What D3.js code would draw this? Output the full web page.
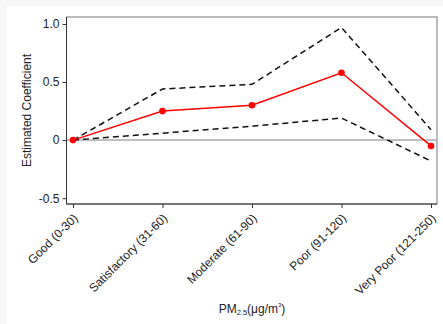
<!DOCTYPE html>
<meta charset="utf-8">
<head>
    <script type="text/javascript" src="https://cdn.jsdelivr.net/npm/d3@7"></script>
    <style>
        body { margin: 0; background: #f7f7f7; }
        text { font-family: "Liberation Sans", Arial, sans-serif; fill: #222; }
    </style>
</head>
<body>
<div id="chart"></div>
<script>
    // chart values
    var categories = ["Good (0-30)", "Satisfactory (31-60)", "Moderate (61-90)", "Poor (91-120)", "Very Poor (121-250)"];
    var estimate = [0, 0.25, 0.30, 0.58, -0.05];
    var upper = [0, 0.44, 0.48, 0.97, 0.09];
    var lower = [0, 0.06, 0.12, 0.19, -0.18];
    var yTicks = [-0.5, 0, 0.5, 1.0];
    var yTickLabels = ["-0.5", "0", "0.5", "1.0"];

    var w = 443, h = 324;
    var plot = {left: 66.5, top: 17, right: 437, bottom: 204};

    var svg = d3.select("#chart").append("svg")
        .attr("width", w).attr("height", h);

    // white panel
    svg.append("rect").attr("x", 7).attr("y", 6)
        .attr("width", w - 7).attr("height", h - 6).attr("fill", "white");

    var x = d3.scalePoint().domain(categories).range([73, 431]);
    var y = d3.scaleLinear().domain([-0.55, 1.06]).range([plot.bottom, plot.top]);

    // frame
    svg.append("rect")
        .attr("x", plot.left).attr("y", plot.top)
        .attr("width", plot.right - plot.left).attr("height", plot.bottom - plot.top)
        .attr("fill", "none").attr("stroke", "#777").attr("stroke-width", 1);

    // zero reference line
    svg.append("line")
        .attr("x1", plot.left).attr("x2", plot.right)
        .attr("y1", y(0)).attr("y2", y(0))
        .attr("stroke", "#aaa").attr("stroke-width", 1.5);

    // axes
    var yAxis = d3.axisLeft(y).tickValues(yTicks).tickSize(4).tickPadding(3)
        .tickFormat((d, i) => yTickLabels[i]);
    svg.append("g").attr("transform", "translate(" + plot.left + ",0)")
        .call(yAxis)
        .call(g => g.select(".domain").attr("d", "M0," + plot.top + "V" + plot.bottom).attr("stroke", "#333"))
        .call(g => g.selectAll(".tick line").attr("stroke", "#333"))
        .call(g => g.selectAll("text").attr("font-size", 12).style("fill", "#222"));

    var xAxis = d3.axisBottom(x).tickSize(4).tickPadding(3);
    svg.append("g").attr("transform", "translate(0," + plot.bottom + ")")
        .call(xAxis)
        .call(g => g.select(".domain").attr("d", "M" + plot.left + ",0H" + plot.right).attr("stroke", "#333"))
        .call(g => g.selectAll(".tick line").attr("stroke", "#333"))
        .call(g => g.selectAll("text")
            .attr("font-size", 12)
            .style("fill", "#222")
            .attr("text-anchor", "end")
            .attr("y", 0)
            .attr("dy", "0.35em")
            .attr("transform", "translate(2,12) rotate(-45)"));

    // dashed confidence bounds
    var line = d3.line().x((d, i) => x(categories[i])).y(d => y(d));
    [upper, lower].forEach(s => {
        svg.append("path").datum(s)
            .attr("d", line)
            .attr("fill", "none")
            .attr("stroke", "#111")
            .attr("stroke-width", 1.5)
            .attr("stroke-dasharray", "6,4");
    });

    // estimates
    svg.append("path").datum(estimate)
        .attr("d", line)
        .attr("fill", "none")
        .attr("stroke", "#ff0000")
        .attr("stroke-width", 1.5);
    svg.selectAll("circle.est").data(estimate).enter()
        .append("circle")
        .attr("class", "est")
        .attr("cx", (d, i) => x(categories[i]))
        .attr("cy", d => y(d))
        .attr("r", 3.3)
        .attr("fill", "#ff0000");

    // axis titles
    svg.append("text")
        .attr("transform", "translate(31,110.5) rotate(-90)")
        .attr("text-anchor", "middle")
        .attr("font-size", 12)
        .text("Estimated Coefficient");

    var xt = svg.append("text")
        .attr("x", 252).attr("y", 313)
        .attr("text-anchor", "middle")
        .attr("font-size", 12);
    xt.append("tspan").text("PM");
    xt.append("tspan").attr("font-size", 7.5).attr("dy", 2).text("2.5");
    xt.append("tspan").attr("dy", -2).text("(μg/m");
    xt.append("tspan").attr("font-size", 6).attr("dy", -6).text("3");
    xt.append("tspan").attr("dy", 6).text(")");
</script>
</body>
</html>
